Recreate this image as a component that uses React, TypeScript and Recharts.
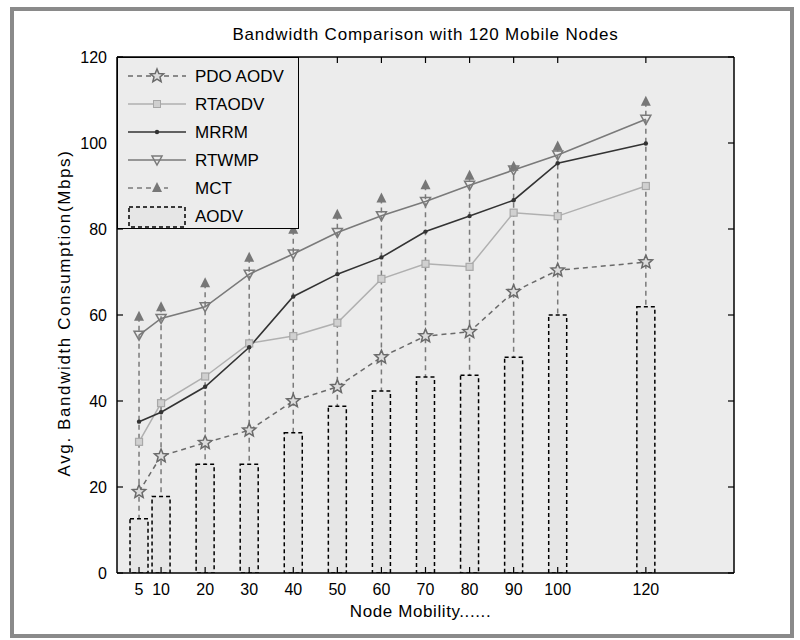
import { ComposedChart, Bar, Line, XAxis, YAxis, CartesianGrid } from 'recharts'

const nodeMobility = [5, 10, 20, 30, 40, 50, 60, 70, 80, 90, 100, 120]
const pdoAodv = [18.9, 27.2, 30.3, 33.2, 40, 43.3, 50.2, 55.1, 56.1, 65.4, 70.4, 72.3]
const rtaodv = [30.5, 39.5, 45.7, 53.4, 55.1, 58.2, 68.4, 71.9, 71.2, 83.8, 83, 90]
const mrrm = [35.2, 37.4, 43.3, 52.5, 64.3, 69.5, 73.4, 79.4, 83, 86.7, 95.3, 99.9]
const rtwmp = [55.3, 59.2, 61.9, 69.5, 74.2, 79.2, 83.1, 86.4, 90.2, 93.7, 97.2, 105.5]
const mct = [59.6, 61.8, 67.4, 73.3, 79.8, 83.3, 87.1, 90.2, 92.4, 94.5, 99.2, 109.6]
const aodv = [12.6, 17.8, 25.3, 25.3, 32.6, 38.8, 42.3, 45.6, 46, 50.2, 60, 61.9]
const xTicks = [5, 10, 20, 30, 40, 50, 60, 70, 80, 90, 100, 120]
const yTicks = [0, 20, 40, 60, 80, 100, 120]

const data = nodeMobility.map((x, i) => ({
  x,
  pdo: pdoAodv[i],
  rtaodv: rtaodv[i],
  mrrm: mrrm[i],
  rtwmp: rtwmp[i],
  mct: mct[i],
  aodv: aodv[i],
}))

const FONT = '"Liberation Sans", Arial, sans-serif'
const PLOT_BG = '#ececec'

function starPoints(cx: number, cy: number, r: number) {
  const pts: string[] = []
  for (let i = 0; i < 10; i++) {
    const rad = i % 2 === 0 ? r : r * 0.45
    const a = -Math.PI / 2 + (i * Math.PI) / 5
    pts.push(`${cx + rad * Math.cos(a)},${cy + rad * Math.sin(a)}`)
  }
  return pts.join(' ')
}

const StarDot = (p: any) => (
  <polygon key={`s-${p.index}`} points={starPoints(p.cx, p.cy, 7)} fill="#dcdcdc" stroke="#6a6a6a" strokeWidth={1.5} />
)
const SquareDot = (p: any) => (
  <rect key={`q-${p.index}`} x={p.cx - 3.5} y={p.cy - 3.5} width={7} height={7} fill="#d0d0d0" stroke="#a8a8a8" strokeWidth={1.2} />
)
const SmallDot = (p: any) => <circle key={`c-${p.index}`} cx={p.cx} cy={p.cy} r={2.2} fill="#333" />
const DownTri = (p: any) => (
  <polygon
    key={`d-${p.index}`}
    points={`${p.cx - 5},${p.cy - 4} ${p.cx + 5},${p.cy - 4} ${p.cx},${p.cy + 5}`}
    fill="none"
    stroke="#7a7a7a"
    strokeWidth={1.5}
  />
)

// stem with a filled triangle on top (MCT)
const Stem = (p: any) => {
  const cx = p.x + p.width / 2
  return (
    <g>
      <line x1={cx} x2={cx} y1={p.y} y2={p.y + p.height} stroke="#7a7a7a" strokeWidth={1.5} strokeDasharray="5 4" />
      <polygon points={`${cx - 5},${p.y + 4} ${cx + 5},${p.y + 4} ${cx},${p.y - 6}`} fill="#777" />
    </g>
  )
}

const Empty = () => <g />

const legendRows = [
  { name: 'PDO AODV', kind: 'pdo' },
  { name: 'RTAODV', kind: 'rtaodv' },
  { name: 'MRRM', kind: 'mrrm' },
  { name: 'RTWMP', kind: 'rtwmp' },
  { name: 'MCT', kind: 'mct' },
  { name: 'AODV', kind: 'aodv' },
]

function LegendSample({ kind }: { kind: string }) {
  const cy = 10
  if (kind === 'aodv') {
    return (
      <svg width={60} height={22}>
        <rect x={1} y={1} width={56} height={20} fill="#e6e6e6" stroke="#000" strokeWidth={1.5} strokeDasharray="4 3" />
      </svg>
    )
  }
  let line: any = null
  let marker: any = null
  if (kind === 'pdo') {
    line = <line x1={0} x2={58} y1={cy} y2={cy} stroke="#6a6a6a" strokeWidth={1.5} strokeDasharray="5 4" />
    marker = <polygon points={starPoints(29, cy, 7)} fill="#dcdcdc" stroke="#6a6a6a" strokeWidth={1.5} />
  } else if (kind === 'rtaodv') {
    line = <line x1={0} x2={58} y1={cy} y2={cy} stroke="#b0b0b0" strokeWidth={1.5} />
    marker = <rect x={25.5} y={cy - 3.5} width={7} height={7} fill="#d0d0d0" stroke="#a8a8a8" />
  } else if (kind === 'mrrm') {
    line = <line x1={0} x2={58} y1={cy} y2={cy} stroke="#333" strokeWidth={1.5} />
    marker = <circle cx={29} cy={cy} r={2.2} fill="#333" />
  } else if (kind === 'rtwmp') {
    line = <line x1={0} x2={58} y1={cy} y2={cy} stroke="#7a7a7a" strokeWidth={1.5} />
    marker = <polygon points={`24,${cy - 4} 34,${cy - 4} 29,${cy + 5}`} fill="none" stroke="#7a7a7a" strokeWidth={1.5} />
  } else {
    line = <line x1={0} x2={40} y1={cy} y2={cy} stroke="#7a7a7a" strokeWidth={1.5} strokeDasharray="5 4" />
    marker = <polygon points={`${29 - 5},${cy + 4} ${29 + 5},${cy + 4} 29,${cy - 6}`} fill="#777" />
  }
  return (
    <svg width={60} height={22}>
      {line}
      {marker}
    </svg>
  )
}

export default function App() {
  return (
    <div style={{ position: 'absolute', left: 0, top: 0, width: 800, height: 640, background: '#fff', fontFamily: FONT }}>
      <div
        style={{
          position: 'absolute',
          left: 10,
          top: 7,
          width: 784,
          height: 631,
          border: '4px solid #8a8a8a',
          boxSizing: 'border-box',
        }}
      />
      <ComposedChart
        width={800}
        height={640}
        data={data}
        margin={{ top: 37, right: 56, bottom: 37, left: 57 }}
        style={{ position: 'absolute', left: 0, top: 0 }}
      >
        <CartesianGrid fill={PLOT_BG} horizontal={false} vertical={false} />
        <XAxis
          dataKey="x"
          type="number"
          domain={[0, 140]}
          ticks={xTicks}
          interval={0}
          allowDataOverflow
          height={30}
          tickSize={-6}
          tickMargin={17}
          axisLine={{ stroke: '#000', strokeWidth: 1.5 }}
          tickLine={{ stroke: '#000', strokeWidth: 1.2 }}
          tick={{ fontSize: 16, fill: '#000', fontFamily: FONT }}
        />
        <XAxis xAxisId="stem" dataKey="x" type="number" domain={[0, 140]} ticks={xTicks} allowDataOverflow hide />
        <XAxis
          xAxisId="top"
          orientation="top"
          dataKey="x"
          type="number"
          domain={[0, 140]}
          ticks={xTicks}
          interval={0}
          allowDataOverflow
          height={20}
          tickSize={-6}
          axisLine={{ stroke: '#000', strokeWidth: 1.5 }}
          tickLine={{ stroke: '#000', strokeWidth: 1.2 }}
          tick={Empty}
        />
        <YAxis
          type="number"
          domain={[0, 120]}
          ticks={yTicks}
          interval={0}
          allowDataOverflow
          width={60}
          tickSize={-6}
          tickMargin={16}
          axisLine={{ stroke: '#000', strokeWidth: 1.5 }}
          tickLine={{ stroke: '#000', strokeWidth: 1.2 }}
          tick={{ fontSize: 16, fill: '#000', fontFamily: FONT }}
        />
        <YAxis
          yAxisId="right"
          orientation="right"
          type="number"
          domain={[0, 120]}
          ticks={yTicks}
          interval={0}
          allowDataOverflow
          width={10}
          tickSize={-6}
          axisLine={{ stroke: '#000', strokeWidth: 1.5 }}
          tickLine={{ stroke: '#000', strokeWidth: 1.2 }}
          tick={Empty}
        />
        <Bar xAxisId="stem" dataKey="mct" barSize={2} shape={Stem} isAnimationActive={false} />
        <Bar
          dataKey="aodv"
          barSize={18}
          fill="#e6e6e6"
          stroke="#000"
          strokeWidth={1.5}
          strokeDasharray="4 3"
          isAnimationActive={false}
        />
        <Line dataKey="pdo" stroke="#6a6a6a" strokeWidth={1.5} strokeDasharray="5 4" dot={StarDot} isAnimationActive={false} />
        <Line dataKey="rtaodv" stroke="#b0b0b0" strokeWidth={1.5} dot={SquareDot} isAnimationActive={false} />
        <Line dataKey="mrrm" stroke="#333" strokeWidth={1.6} dot={SmallDot} isAnimationActive={false} />
        <Line dataKey="rtwmp" stroke="#7a7a7a" strokeWidth={1.6} dot={DownTri} isAnimationActive={false} />
      </ComposedChart>

      <div
        style={{
          position: 'absolute',
          left: 117,
          width: 617,
          top: 25,
          textAlign: 'center',
          fontSize: 17,
          letterSpacing: 0.8,
          color: '#000',
        }}
      >
        Bandwidth Comparison with 120 Mobile Nodes
      </div>
      <div
        style={{
          position: 'absolute',
          left: 112,
          width: 617,
          top: 602,
          textAlign: 'center',
          fontSize: 17,
          letterSpacing: 0.6,
          color: '#000',
        }}
      >
        Node Mobility......
      </div>
      <div
        style={{
          position: 'absolute',
          left: 65,
          top: 313,
          transform: 'translate(-50%, -50%) rotate(-90deg)',
          whiteSpace: 'nowrap',
          fontSize: 17,
          letterSpacing: 1.6,
          color: '#000',
        }}
      >
        Avg. Bandwidth Consumption(Mbps)
      </div>

      <div
        style={{
          position: 'absolute',
          left: 117,
          top: 57,
          width: 182,
          height: 172,
          border: '1.5px solid #000',
          background: PLOT_BG,
          boxSizing: 'border-box',
          paddingTop: 5,
        }}
      >
        {legendRows.map((r) => (
          <div key={r.name} style={{ display: 'flex', alignItems: 'center', height: 28, paddingLeft: 10 }}>
            <LegendSample kind={r.kind} />
            <span style={{ marginLeft: 7, fontSize: 17, color: '#000' }}>{r.name}</span>
          </div>
        ))}
      </div>
    </div>
  )
}
